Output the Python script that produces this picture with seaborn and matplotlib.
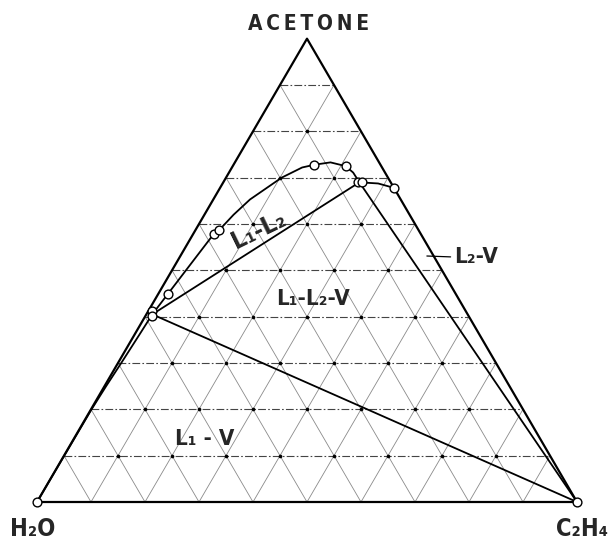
import numpy as np
import pandas as pd
import seaborn as sns
import matplotlib.pyplot as plt

sns.set_style("white")
plt.rcParams['font.family'] = ['DejaVu Sans']

# Ternary compositions as mole fractions (acetone, ethylene); water is the remainder.
# Water-rich liquid (L1) boundary running from the water corner up to the L1 corner.
l1_edge_acetone = [0.0, 0.10, 0.20, 0.25, 0.30, 0.36, 0.405]
l1_edge_c2h4 = [0.0, 0.0005, 0.001, 0.003, 0.006, 0.009, 0.011]

# L1-L2 binodal from the L1 corner over the top to the L2 corner.
binodal_acetone = [0.405, 0.450, 0.495, 0.578, 0.587, 0.620, 0.653, 0.700, 0.722, 0.728, 0.733, 0.725, 0.711, 0.690]
binodal_c2h4 = [0.011, 0.018, 0.025, 0.038, 0.044, 0.054, 0.068, 0.103, 0.130, 0.150, 0.177, 0.209, 0.230, 0.252]

# L2 branch from the L2 corner to the acetone-ethylene side.
l2_acetone = [0.690, 0.6875, 0.678]
l2_c2h4 = [0.252, 0.288, 0.322]

# Three-phase triangle L1 - L2 - V (V is essentially pure ethylene).
three_phase_acetone = [0.405, 0.690, 0.0, 0.405]
three_phase_c2h4 = [0.011, 0.252, 1.0, 0.011]

# Measured compositions (open circles).
pts_acetone = [0.0, 0.0, 0.412, 0.4015, 0.450, 0.578, 0.587, 0.728, 0.725, 0.690, 0.690, 0.678]
pts_c2h4 = [0.0, 1.0, 0.0075, 0.0127, 0.018, 0.038, 0.044, 0.1495, 0.209, 0.250, 0.257, 0.322]

H = np.sqrt(3) / 2


def to_xy(acetone, c2h4):
    a = np.asarray(acetone, dtype=float)
    c = np.asarray(c2h4, dtype=float)
    return c + a / 2, a * H


fig = plt.figure(figsize=(6.12, 5.49), dpi=100)
ax = fig.add_axes([0, 0, 1, 1])
ax.set_xlim(-37 / 540, (612 - 37) / 540)
ax.set_ylim(-(549 - 502) / 535, 502 / 535)
ax.set_axis_off()

# 10 % composition grid
steps = np.arange(1, 10) / 10
for f in steps:
    # constant acetone (horizontal, dash-dot)
    x, y = to_xy([f, f], [0, 1 - f])
    ax.plot(x, y, color='#444444', lw=0.8, ls=(0, (7, 2, 1.5, 2)), zorder=1)
    # constant ethylene
    x, y = to_xy([0, 1 - f], [f, f])
    ax.plot(x, y, color='#8a8a8a', lw=0.6, zorder=1)
    # constant water
    x, y = to_xy([0, 1 - f], [1 - f, 0])
    ax.plot(x, y, color='#8a8a8a', lw=0.6, zorder=1)

grid = pd.DataFrame([(i / 10, j / 10) for i in range(1, 10) for j in range(1, 10) if i + j < 10],
                    columns=['acetone', 'c2h4'])
gx, gy = to_xy(grid['acetone'], grid['c2h4'])
sns.scatterplot(x=gx, y=gy, ax=ax, s=7, color='black', linewidth=0, zorder=2, legend=False)

# Triangle outline
tx, ty = to_xy([0, 0, 1, 0], [0, 1, 0, 0])
sns.lineplot(x=tx, y=ty, ax=ax, sort=False, estimator=None, color='black', lw=1.6, zorder=3)


def curve(acetone, c2h4, lw):
    x, y = to_xy(acetone, c2h4)
    sns.lineplot(x=x, y=y, ax=ax, sort=False, estimator=None, color='black', lw=lw, zorder=4)


curve(l1_edge_acetone, l1_edge_c2h4, 1.3)
curve(binodal_acetone, binodal_c2h4, 1.3)
curve(l2_acetone, l2_c2h4, 1.3)
curve(three_phase_acetone, three_phase_c2h4, 1.3)

px, py = to_xy(pts_acetone, pts_c2h4)
sns.scatterplot(x=px, y=py, ax=ax, s=40, facecolor='white', edgecolor='black',
                linewidth=1.0, zorder=5, legend=False)

# Labels
lab = dict(fontweight='bold', fontstretch='condensed')
ax.text(0.502, 0.882, "A\u2009C\u2009E\u2009T\u2009O\u2009N\u2009E", ha='center', va='baseline',
        fontsize=15, **lab)
ax.text(-0.0074, -0.0636, "H\u2082O", ha='center', va='baseline', fontsize=17, **lab)
ax.text(1.010, -0.0636, "C\u2082H\u2084", ha='center', va='baseline', fontsize=17, **lab)

ax.text(0.410, 0.508, "L\u2081-L\u2082", ha='center', va='center', fontsize=18,
        rotation=26, rotation_mode='anchor', **lab)
ax.text(0.511, 0.368, "L\u2081-L\u2082-V", ha='center', va='baseline', fontsize=16, **lab)
ax.text(0.311, 0.1065, "L\u2081 - V", ha='center', va='baseline', fontsize=16, **lab)
ax.annotate("L\u2082-V", xy=(0.722, 0.4598), xytext=(0.772, 0.4467),
            ha='left', va='baseline', fontsize=16,
            arrowprops=dict(arrowstyle='-', lw=0.9, color='black',
                            shrinkA=0, shrinkB=0, relpos=(0, 0.5)), **lab)

fig.savefig("out.png", dpi=100)
